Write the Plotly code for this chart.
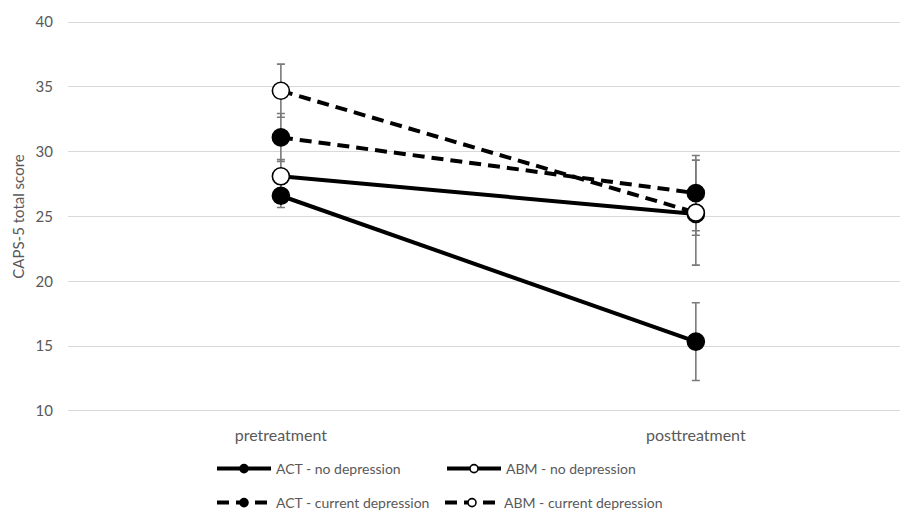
import plotly.graph_objects as go

categories = ["pretreatment", "posttreatment"]

act_nodep = [26.6, 15.35]
act_nodep_err = [0.9, 3.0]
abm_nodep = [28.1, 25.2]
abm_nodep_err = [1.3, 1.65]
act_dep = [31.1, 26.8]
act_dep_err = [1.85, 2.9]
abm_dep = [34.7, 25.3]
abm_dep_err = [2.05, 4.05]

series = [
    ("ACT - no depression", act_nodep, act_nodep_err, "solid", "black", "legend"),
    ("ABM - no depression", abm_nodep, abm_nodep_err, "solid", "white", "legend3"),
    ("ACT - current depression", act_dep, act_dep_err, "12px,7px", "black", "legend2"),
    ("ABM - current depression", abm_dep, abm_dep_err, "12px,7px", "white", "legend4"),
]

FONT = "Lato, sans-serif"
GREY = "#595959"

fig = go.Figure()

# error bars first (beneath all markers)
for name, vals, err, dash, fill, lg in series:
    fig.add_trace(go.Scatter(
        x=categories, y=vals, mode="markers",
        marker=dict(size=1, color="rgba(0,0,0,0)"),
        error_y=dict(type="data", array=err, visible=True, color="#7a7a7a",
                     thickness=1.6, width=4),
        showlegend=False, hoverinfo="skip"))

# lines
for name, vals, err, dash, fill, lg in series:
    fig.add_trace(go.Scatter(
        x=categories, y=vals, mode="lines",
        line=dict(color="black", width=4, dash=dash),
        showlegend=False, hoverinfo="skip"))

# markers
for name, vals, err, dash, fill, lg in series:
    fig.add_trace(go.Scatter(
        x=categories, y=vals, mode="markers",
        marker=dict(size=17, color=fill, line=dict(color="black", width=1.6)),
        showlegend=False, name=name))

# legend entries
for name, vals, err, dash, fill, lg in series:
    fig.add_trace(go.Scatter(
        x=[None], y=[None], mode="lines+markers", name=name,
        line=dict(color="black", width=4, dash=dash),
        marker=dict(size=8, color=fill, line=dict(color="black", width=1.6)),
        legend=lg))

legend_common = dict(orientation="h", xanchor="left", yanchor="middle",
                     xref="container", yref="container",
                     font=dict(family=FONT, size=14, color=GREY),
                     itemwidth=54, bgcolor="rgba(0,0,0,0)",
                     tracegroupgap=0)

row1_y = 1 - 469 / 513
row2_y = 1 - 503 / 513

fig.update_layout(
    width=900, height=513,
    margin=dict(l=68, r=0, t=21, b=101, autoexpand=False),
    paper_bgcolor="white", plot_bgcolor="white",
    font=dict(family=FONT, size=15, color=GREY),
    legend=dict(x=212 / 900, y=row1_y, **legend_common),
    legend2=dict(x=212 / 900, y=row2_y, **legend_common),
    legend3=dict(x=442 / 900, y=row1_y, **legend_common),
    legend4=dict(x=440 / 900, y=row2_y, **legend_common),
    xaxis=dict(type="category", range=[-0.513, 1.492], showgrid=False,
               showline=False, zeroline=False, ticks="", automargin=False,
               ticklabelstandoff=12,
               tickfont=dict(family=FONT, size=16, color=GREY)),
    yaxis=dict(range=[9.92, 40.08], tickvals=[10, 15, 20, 25, 30, 35, 40],
               showgrid=True, gridcolor="#d9d9d9",
               gridwidth=1, zeroline=False, showline=False, ticks="",
               automargin=False, ticklabelstandoff=14,
               tickfont=dict(family=FONT, size=15, color=GREY),
               title=dict(text="CAPS-5 total score", standoff=7,
                          font=dict(family=FONT, size=15, color=GREY))),
)

fig.write_html("out.html", config={"displayModeBar": False},
               post_script="document.body.style.margin='0px';")
